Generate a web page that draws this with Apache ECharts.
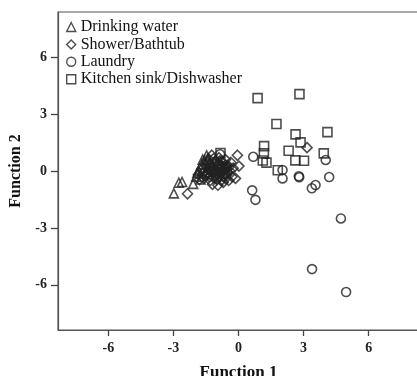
<!DOCTYPE html>
<html>
<head>
<meta charset="utf-8">
<script src="https://cdn.jsdelivr.net/npm/echarts@6/dist/echarts.min.js"></script>
<style>html,body{margin:0;padding:0;background:#fff;}#c{width:417px;height:376px;}</style>
</head>
<body>
<div id="c"></div>
<script>
const seriesNames = ['Drinking water', 'Shower/Bathtub', 'Laundry', 'Kitchen sink/Dishwasher'];
const tickValues = [-6, -3, 0, 3, 6];

const drinkingWater = [
  [-2.98,-1.18],[-2.75,-0.62],[-2.6,-0.58],[-2.09,-0.68],[-1.95,-0.3],[-1.84,0.02],
  [-1.7,0.35],[-1.9,-0.1],[-1.55,0.55],[-1.47,0.82],[-1.6,0.15],[-1.35,-0.15],
  [-1.75,-0.45],[-1.2,0.3],[-1.05,0.05],[-1.4,0.65],[-1.5,-0.05],[-1.3,0.45],[-1.65,0.6]
];
const showerBathtub = [
  [-2.35,-1.2],[-1.85,-0.2],[-1.7,0.05],[-1.6,-0.4],[-1.5,0.3],[-1.45,-0.1],[-1.35,0.6],
  [-1.23,0.83],[-1.3,-0.5],[-1.2,-0.7],[-1.2,0.2],[-1.1,0.5],[-1.1,-0.2],[-1.05,0.0],
  [-1.0,-0.45],[-0.95,-0.75],[-0.95,0.35],[-0.9,0.7],[-0.85,-0.1],[-0.8,0.15],[-0.8,-0.5],
  [-0.75,0.5],[-0.7,-0.3],[-0.65,0.1],[-0.6,0.6],[-0.55,-0.2],[-0.5,0.3],[-0.45,-0.5],
  [-0.4,0.0],[-0.35,0.45],[-0.3,-0.3],[-0.25,0.15],[-0.14,-0.39],[-0.05,0.83],[0.02,0.26],
  [-1.55,-0.25],[-1.4,0.1],[-1.15,-0.35],[-0.9,0.05],[-0.7,-0.6],[-0.6,0.3],[-1.0,0.25],
  [-0.85,-0.3],[-1.25,0.0],[3.16,1.23],[-1.8,-0.45],[-1.65,-0.15],
  [-1.3,0.35],[-1.2,-0.1],[-1.1,0.1],[-1.0,-0.15],[-0.95,0.15],[-0.9,-0.25],[-0.85,0.3],
  [-0.8,-0.05],[-0.75,0.25],[-0.7,0.0],[-0.65,-0.15],[-0.6,-0.4],[-0.55,0.1],[-0.5,-0.05],
  [-0.45,0.2],[-1.05,0.45],[-1.15,0.65],[-0.85,0.55],[-1.35,-0.3],[-1.45,0.45]
];
const laundry = [
  [0.68,0.75],[2.03,0.05],[2.03,-0.39],[2.78,-0.28],[2.8,-0.33],[4.02,0.58],[4.18,-0.32],
  [3.38,-0.91],[3.55,-0.74],[0.63,-1.02],[0.78,-1.52],[4.72,-2.5],[3.39,-5.17],[4.96,-6.38],
  [-0.85,0.88],[-0.6,0.2]
];
const kitchenSink = [
  [0.88,3.84],[2.81,4.05],[1.75,2.48],[2.63,1.93],[4.1,2.05],[2.86,1.51],[1.18,1.31],
  [2.31,1.07],[1.17,0.93],[3.93,0.93],[1.12,0.55],[1.29,0.44],[2.62,0.56],[3.02,0.54],
  [1.81,0.04],[-0.83,0.95]
];

const serif = '"Liberation Serif", "Times New Roman", serif';
const stroke = '#222';

function mk(name, data, symbol, size) {
  return {
    name: name, type: 'scatter', data: data, symbol: symbol, symbolSize: size,
    itemStyle: { color: 'rgba(0,0,0,0)', borderColor: stroke, borderWidth: 1.6 },
    emphasis: { disabled: true }
  };
}

const chart = echarts.init(document.getElementById('c'), null, { renderer: 'canvas' });
chart.setOption({
  animation: false,
  backgroundColor: '#fff',
  grid: { left: 58, top: 12, right: -2, bottom: 46, show: true, borderColor: '#555', borderWidth: 1.2,
          containLabel: false, outerBoundsMode: 'none' },
  legend: {
    orient: 'vertical', left: 66, top: 19, padding: 0,
    itemWidth: 9, itemHeight: 9, itemGap: 1.4,
    textStyle: { fontFamily: serif, fontSize: 16, color: '#111', lineHeight: 16 },
    data: seriesNames.map(n => ({ name: n, itemStyle: { color: 'rgba(0,0,0,0)', borderColor: stroke, borderWidth: 1.4 } }))
  },
  xAxis: {
    type: 'value', min: -8.32, max: 8.32,
    name: 'Function 1', nameLocation: 'middle', nameGap: 34,
    nameTextStyle: { fontFamily: serif, fontSize: 17, fontWeight: 'bold', color: '#111' },
    axisLine: { show: true, onZero: false, lineStyle: { color: '#555', width: 1.2 } },
    axisTick: { show: true, inside: false, length: 6, lineStyle: { color: '#444', width: 1.3 }, customValues: tickValues },
    axisLabel: { margin: 11, fontFamily: serif, fontSize: 14, fontWeight: 'bold', color: '#222', customValues: tickValues },
    splitLine: { show: false }
  },
  yAxis: {
    type: 'value', min: -8.38, max: 8.38,
    name: 'Function 2', nameLocation: 'middle', nameGap: 34, nameRotate: 90,
    nameTextStyle: { fontFamily: serif, fontSize: 16, fontWeight: 'bold', color: '#111' },
    axisLine: { show: true, onZero: false, lineStyle: { color: '#555', width: 1.2 } },
    axisTick: { show: true, inside: false, length: 7, lineStyle: { color: '#444', width: 1.3 }, customValues: tickValues },
    axisLabel: { margin: 11, fontFamily: serif, fontSize: 14, fontWeight: 'bold', color: '#222', customValues: tickValues },
    splitLine: { show: false }
  },
  series: [
    mk(seriesNames[0], drinkingWater, 'triangle', 9),
    mk(seriesNames[1], showerBathtub, 'diamond', 10),
    mk(seriesNames[2], laundry, 'circle', 9),
    mk(seriesNames[3], kitchenSink, 'rect', 9)
  ]
});
</script>
</body>
</html>
